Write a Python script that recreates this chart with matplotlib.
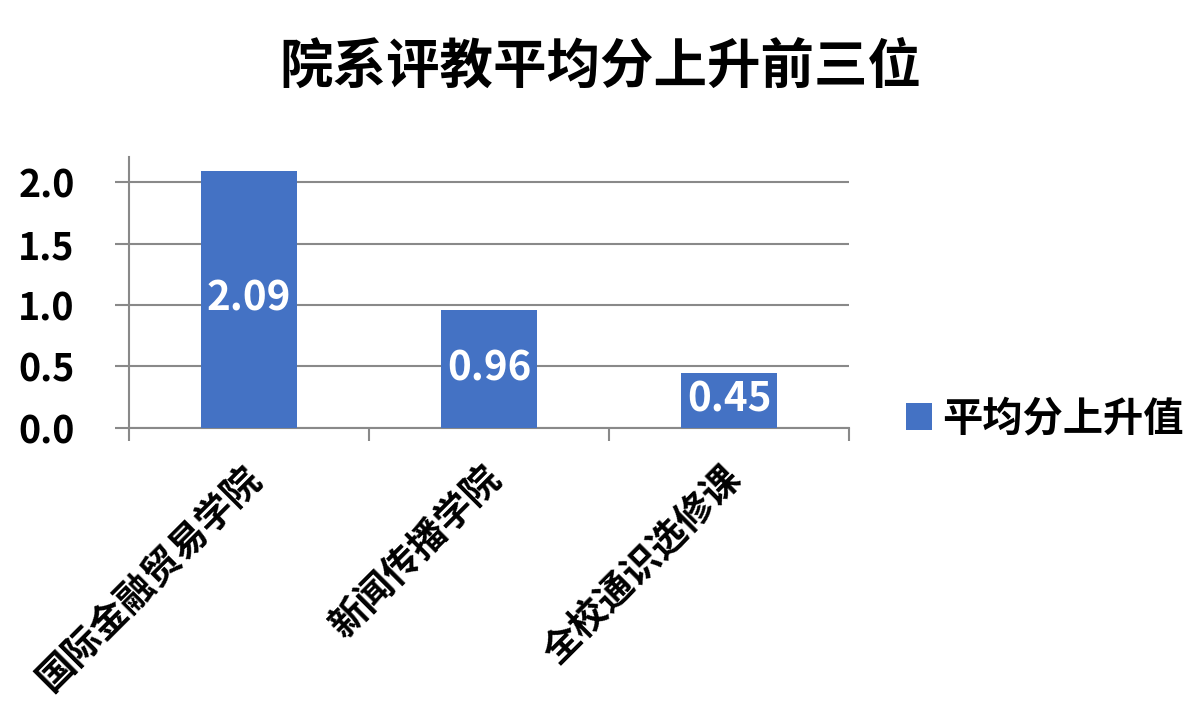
import matplotlib
matplotlib.use("Agg")
import matplotlib.pyplot as plt
from matplotlib.ticker import FixedLocator
from matplotlib.transforms import ScaledTranslation

plt.rcParams['font.family'] = ['Noto Sans CJK SC', 'DejaVu Sans']
plt.rcParams['font.weight'] = 'bold'

title = "院系评教平均分上升前三位"
categories = ["国际金融贸易学院", "新闻传播学院", "全校通识选修课"]
values = [2.09, 0.96, 0.45]
series_name = "平均分上升值"
yticks = [0.0, 0.5, 1.0, 1.5, 2.0]

bar_color = "#4472C4"
grid_color = "#898989"

fig = plt.figure(figsize=(11.93, 7.10), dpi=100)
ax = fig.add_axes([0.1081, 0.3972, 0.7117 - 0.1081, 0.7783 - 0.3972])

x = list(range(len(categories)))
bars = ax.bar(x, values, width=0.4, color=bar_color, label=series_name, zorder=3)

for b, v in zip(bars, values):
    ax.text(b.get_x() + b.get_width() / 2, v / 2, f"{v:.2f}", ha="center", va="center",
            color="white", fontsize=29, fontweight="bold", zorder=4)

ax.set_xlim(-0.5, len(categories) - 0.5)
ax.set_ylim(0, 2.2)
ax.set_yticks(yticks)
ax.set_yticklabels([f"{t:.1f}" for t in yticks], fontsize=27, fontweight="bold")
ax.yaxis.grid(True, color=grid_color, linewidth=1.5, zorder=0)
ax.tick_params(axis="y", length=10, width=1.5, color=grid_color, pad=29)

ax.set_xticks(x)
ax.set_xticklabels(categories, rotation=45, ha="right", rotation_mode="anchor",
                   fontsize=27, fontweight="bold")
ax.tick_params(axis="x", which="major", length=0, pad=22)
shift = ScaledTranslation(-0.08, 0, fig.dpi_scale_trans)
for lbl in ax.get_xticklabels():
    lbl.set_transform(lbl.get_transform() + shift)
ax.xaxis.set_minor_locator(FixedLocator([i - 0.5 for i in range(len(categories) + 1)]))
ax.tick_params(axis="x", which="minor", length=9, width=1.5, color=grid_color)

for s in ["top", "right"]:
    ax.spines[s].set_visible(False)
for s in ["left", "bottom"]:
    ax.spines[s].set_color(grid_color)
    ax.spines[s].set_linewidth(1.5)

fig.text(0.503, 0.905, title, ha="center", va="center", fontsize=38.5, fontweight="bold")

leg = fig.legend(handles=[bars], labels=[series_name], loc="center left",
                 bbox_to_anchor=(0.729, 0.41), frameon=False,
                 prop={"size": 29, "weight": "bold"},
                 handlelength=0.65, handleheight=0.65, handletextpad=0.25)

fig.savefig("out.png", dpi=100)
